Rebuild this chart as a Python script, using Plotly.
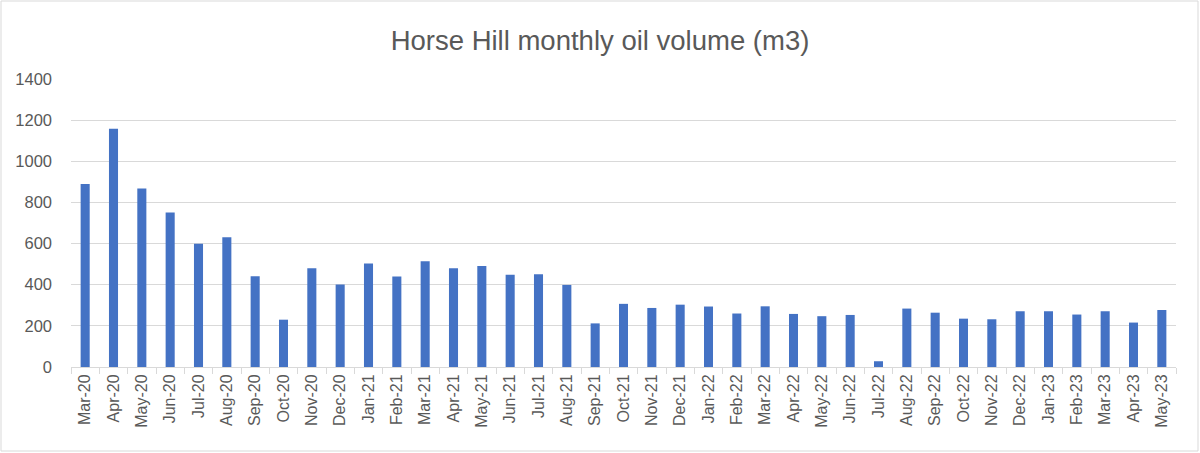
import plotly.graph_objects as go

months = ["Mar-20","Apr-20","May-20","Jun-20","Jul-20","Aug-20","Sep-20","Oct-20","Nov-20","Dec-20",
          "Jan-21","Feb-21","Mar-21","Apr-21","May-21","Jun-21","Jul-21","Aug-21","Sep-21","Oct-21","Nov-21","Dec-21",
          "Jan-22","Feb-22","Mar-22","Apr-22","May-22","Jun-22","Jul-22","Aug-22","Sep-22","Oct-22","Nov-22","Dec-22",
          "Jan-23","Feb-23","Mar-23","Apr-23","May-23"]
oil_volume = [890, 1158, 868, 751, 599, 631, 441, 230, 480, 401,
              503, 440, 514, 480, 491, 449, 451, 399, 212, 307, 287, 303,
              294, 260, 295, 258, 247, 253, 28, 284, 264, 235, 232, 271,
              271, 255, 271, 216, 277]
y_ticks = [0, 200, 400, 600, 800, 1000, 1200, 1400]

W, H = 1200, 453
L, R, T, B = 71, 24, 79, 86
pw, ph = W - L - R, H - T - B

fig = go.Figure(go.Bar(x=months, y=oil_volume, marker_color="#4472C4", marker_line_width=0))

fig.update_layout(
    width=W, height=H,
    margin=dict(l=L, r=R, t=T, b=B, pad=0),
    paper_bgcolor="white", plot_bgcolor="white",
    bargap=0.68,
    showlegend=False,
    font=dict(family="Liberation Sans, Arial, sans-serif", color="#595959"),
    title=dict(text="Horse Hill monthly oil volume (m3)", x=0.5, xref="container", xanchor="center",
               y=1 - 40/H, yref="container", yanchor="middle",
               font=dict(size=27.5, color="#595959")),
)
fig.update_yaxes(range=[0, 1400], tickvals=y_ticks, showgrid=True, gridcolor="#d9d9d9", gridwidth=1,
                 zeroline=False, showline=False, ticks="", tickfont=dict(size=16.5, color="#595959"),
                 ticklabelstandoff=18)
fig.update_xaxes(type="category", tickangle=-90, showline=True, linecolor="#d9d9d9", linewidth=1,
                 ticks="outside", tickson="boundaries", ticklen=6, tickcolor="#d9d9d9",
                 tickfont=dict(size=16, color="#595959"), showgrid=False)

fig.add_shape(type="rect", xref="paper", yref="paper",
              x0=(1 - L) / pw, x1=(W - 2 - L) / pw,
              y0=(H - B - (H - 2)) / ph, y1=(H - B - 1) / ph,
              line=dict(color="#d9d9d9", width=1), fillcolor="rgba(0,0,0,0)", layer="below")

fig.write_html("out.html", config={"displayModeBar": False},
               post_script="document.body.style.margin='0';document.body.style.overflow='hidden';")
